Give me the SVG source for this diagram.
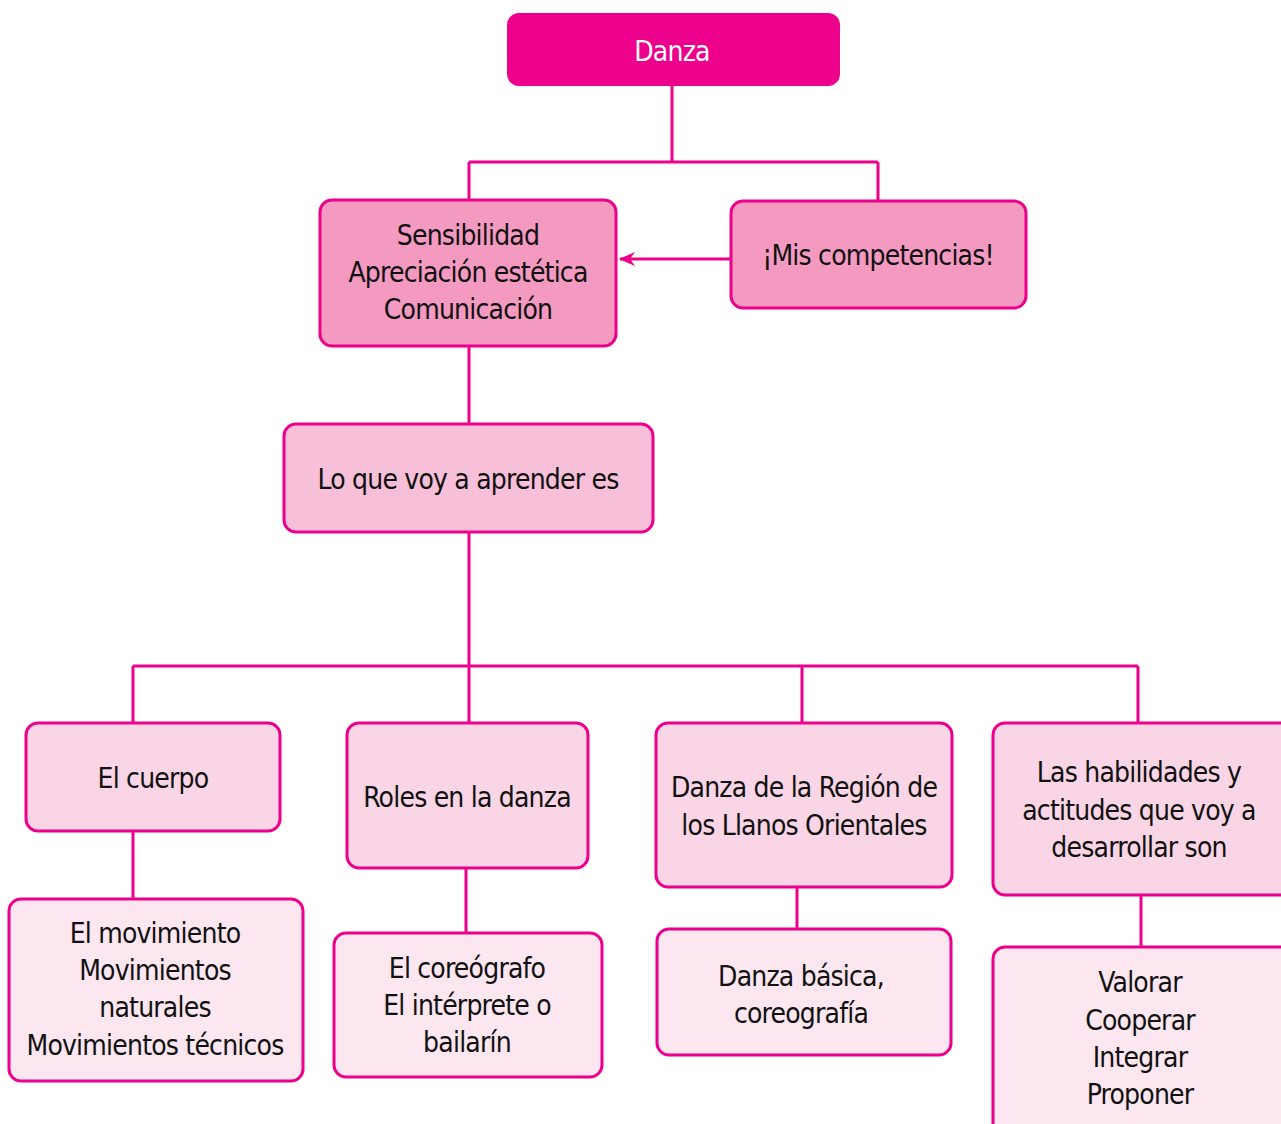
<svg xmlns="http://www.w3.org/2000/svg" width="1281" height="1124" viewBox="0 0 1281 1124">
<defs>
<style>
.t{font-family:"Liberation Sans Narrow","DejaVu Sans Condensed","Liberation Sans",sans-serif;font-size:28px;letter-spacing:-0.8px;text-anchor:middle;fill:#111}
.w{fill:#fff}
.n{stroke:#EC008C;stroke-width:3}
.l0{fill:#EC008C}
.l1{fill:#F49AC1}
.l2{fill:#F7BFD8}
.l3{fill:#F9D5E5}
.l4{fill:#FCE6F0}
.c{fill:none;stroke:#EC008C;stroke-width:3}
</style>
<marker id="ah" viewBox="0 0 16 14" refX="15" refY="7" markerWidth="16" markerHeight="14" orient="auto-start-reverse" markerUnits="userSpaceOnUse">
<path d="M0,0 L16,7 L0,14 L5,7 Z" fill="#EC008C"/>
</marker>
</defs>
<rect width="1281" height="1124" fill="#fff"/>
<g id="connectors">
<path class="c" d="M672,86 V162 M469,162 H878 M469,162 V200 M878,162 V201"/>
<path class="c" d="M731,259 H620" marker-end="url(#ah)"/>
<path class="c" d="M469,346 V424 M469,532 V666 M133,666 H1138 M133,666 V723 M469,666 V723 M802,666 V723 M1138,666 V723"/>
<path class="c" d="M133,831 V899 M466,868 V933 M797,887 V929 M1141,895 V947"/>
</g>
<g id="danza">
<rect x="507" y="13" width="333" height="73" rx="12" class="l0"/>
<text class="t w" x="672" y="61">Danza</text>
</g>
<g id="sensibilidad">
<rect x="320" y="200" width="296" height="146" rx="12" class="n l1"/>
<text class="t" x="468" y="245">Sensibilidad</text>
<text class="t" x="468" y="282">Apreciación estética</text>
<text class="t" x="468" y="319">Comunicación</text>
</g>
<g id="competencias">
<rect x="731" y="201" width="295" height="107" rx="12" class="n l1"/>
<text class="t" x="878" y="265">¡Mis competencias!</text>
</g>
<g id="aprender">
<rect x="284" y="424" width="369" height="108" rx="12" class="n l2"/>
<text class="t" x="468" y="489">Lo que voy a aprender es</text>
</g>
<g id="cuerpo">
<rect x="26" y="723" width="254" height="108" rx="12" class="n l3"/>
<text class="t" x="153" y="788">El cuerpo</text>
</g>
<g id="roles">
<rect x="347" y="723" width="241" height="145" rx="12" class="n l3"/>
<text class="t" x="467" y="807">Roles en la danza</text>
</g>
<g id="region">
<rect x="656" y="723" width="296" height="164" rx="12" class="n l3"/>
<text class="t" x="804" y="797">Danza de la Región de</text>
<text class="t" x="804" y="835">los Llanos Orientales</text>
</g>
<g id="habilidades">
<rect x="993" y="723" width="300" height="172" rx="12" class="n l3"/>
<text class="t" x="1139" y="782">Las habilidades y</text>
<text class="t" x="1139" y="820">actitudes que voy a</text>
<text class="t" x="1139" y="857">desarrollar son</text>
</g>
<g id="movimiento">
<rect x="9" y="899" width="294" height="182" rx="12" class="n l4"/>
<text class="t" x="155" y="943">El movimiento</text>
<text class="t" x="155" y="980">Movimientos</text>
<text class="t" x="155" y="1017">naturales</text>
<text class="t" x="155" y="1055">Movimientos técnicos</text>
</g>
<g id="coreografo">
<rect x="334" y="933" width="268" height="144" rx="12" class="n l4"/>
<text class="t" x="467" y="978">El coreógrafo</text>
<text class="t" x="467" y="1015">El intérprete o</text>
<text class="t" x="467" y="1052">bailarín</text>
</g>
<g id="basica">
<rect x="657" y="929" width="294" height="126" rx="12" class="n l4"/>
<text class="t" x="801" y="986">Danza básica,</text>
<text class="t" x="801" y="1023">coreografía</text>
</g>
<g id="valorar">
<rect x="993" y="947" width="300" height="190" rx="12" class="n l4"/>
<text class="t" x="1140" y="992">Valorar</text>
<text class="t" x="1140" y="1030">Cooperar</text>
<text class="t" x="1140" y="1067">Integrar</text>
<text class="t" x="1140" y="1104">Proponer</text>
</g>
</svg>
